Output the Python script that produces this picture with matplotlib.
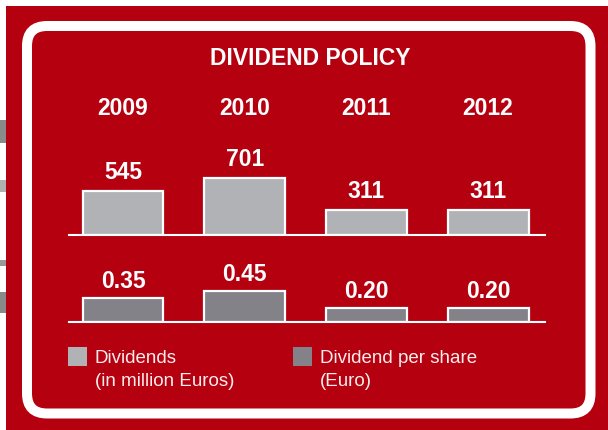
import numpy as np
import matplotlib.pyplot as plt
from matplotlib.patches import Rectangle, FancyBboxPatch
from matplotlib.transforms import blended_transform_factory

plt.rcParams['font.family'] = ['Liberation Sans', 'DejaVu Sans']

# data
years = ['2009', '2010', '2011', '2012']
dividends = [545, 701, 311, 311]
per_share = [0.35, 0.45, 0.20, 0.20]
div_labels = ['545', '701', '311', '311']
share_labels = ['0.35', '0.45', '0.20', '0.20']
title = 'DIVIDEND POLICY'
legend_line1 = ['Dividends', 'Dividend per share']
legend_line2 = ['(in million Euros)', '(Euro)']

RED = '#B5000F'
LIGHT = '#B1B2B6'
DARK = '#838288'
TXT = '#FBEDED'

W, H = 608, 430
fig = plt.figure(figsize=(W / 100, H / 100), dpi=100)
fig.patch.set_facecolor('white')

# background in pixel coordinates
bg = fig.add_axes([0, 0, 1, 1])
bg.set_xlim(0, W)
bg.set_ylim(H, 0)
bg.axis('off')
bg.add_patch(Rectangle((6, 6), W - 6, H - 6, color=RED, lw=0))
# bits of the neighbouring page showing at the left edge
for y0, h, c in [(120, 23, '#8a8a8a'), (180, 12, '#b0b0b0'),
                 (260, 6, '#9a9a9a'), (292, 21, '#8a8a8a')]:
    bg.add_patch(Rectangle((0, y0), 6, h, color=c, lw=0))
bg.add_patch(FancyBboxPatch((27, 26), 563.5, 387.5,
                            boxstyle='round,pad=0,rounding_size=20',
                            fc='none', ec='white', lw=7.2))

bg.text(310, 65, title, ha='center', va='baseline', color='white',
        fontsize=16.5, fontweight='bold')


def px_axes(left, right, base, top):
    return fig.add_axes([left / W, 1 - base / H, (right - left) / W, (base - top) / H])


x = np.arange(len(years))
spacing = 121.7
left_px, right_px = 69, 545
first_c = 123
xlo = -(first_c - left_px) / spacing
xhi = xlo + (right_px - left_px) / spacing

ax1 = px_axes(left_px, right_px, 235, 135)
ax1.set_ylim(0, 100 / 0.081)
ax2 = px_axes(left_px, right_px, 321.5, 261.5)
ax2.set_ylim(0, 60 / 67)

for ax, vals, labs, col, off in [(ax1, dividends, div_labels, LIGHT, 8.6),
                                 (ax2, per_share, share_labels, DARK, 7.2)]:
    ax.set_xlim(xlo, xhi)
    ax.bar(x, vals, width=0.665, color=col, ec='white', lw=1.6)
    for xi, v, l in zip(x, vals, labs):
        ax.annotate(l, (xi, v), xytext=(0, off), textcoords='offset points',
                    ha='center', va='baseline', color='white',
                    fontsize=16.5, fontweight='bold')
    ax.patch.set_visible(False)
    for s in ['top', 'left', 'right']:
        ax.spines[s].set_visible(False)
    ax.spines['bottom'].set_color('white')
    ax.spines['bottom'].set_linewidth(1.5)
    ax.set_xticks([])
    ax.set_yticks([])

# year headers
trans = blended_transform_factory(ax1.transData, bg.transData)
for xi, yr in zip(x, years):
    ax1.text(xi, 115, yr, transform=trans, ha='center', va='baseline',
             color='white', fontsize=16.5, fontweight='bold', clip_on=False)

# legend
for lx, col, l1, l2 in zip([68, 293], [LIGHT, DARK], legend_line1, legend_line2):
    bg.add_patch(Rectangle((lx, 347), 19, 19, color=col, lw=0))
    bg.text(lx + 27, 363, l1, ha='left', va='baseline', color=TXT, fontsize=13.5)
    bg.text(lx + 27, 386, l2, ha='left', va='baseline', color=TXT, fontsize=13.5)

fig.savefig('out.png', dpi=100, facecolor='white')
